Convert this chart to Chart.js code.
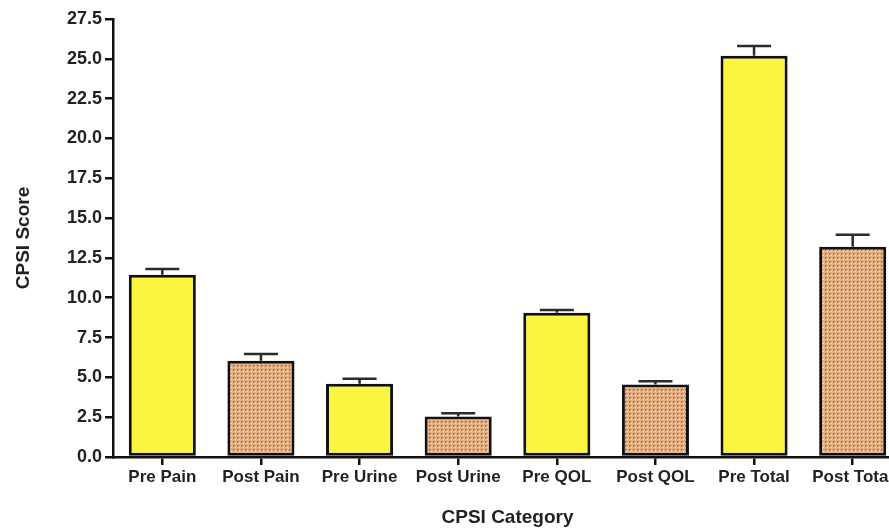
<!DOCTYPE html>
<html>
<head>
<meta charset="utf-8">
<script src="https://cdn.jsdelivr.net/npm/chart.js@4"></script>
<style>
  html, body { margin: 0; padding: 0; background: #fff; overflow: hidden; }
  #wrap { width: 905px; height: 530px; }
</style>
</head>
<body>
<div id="wrap"><canvas id="c" width="905" height="530"></canvas></div>
<script>
// CPSI scores before and after treatment (mean with SEM)
const categories = ['Pre Pain', 'Post Pain', 'Pre Urine', 'Post Urine', 'Pre QOL', 'Post QOL', 'Pre Total', 'Post Total'];
const meanScores = [11.45, 6.05, 4.6, 2.55, 9.05, 4.55, 25.2, 13.2];
const semErrors = [0.35, 0.42, 0.32, 0.2, 0.18, 0.2, 0.6, 0.75];
const yTicks = [0, 2.5, 5, 7.5, 10, 12.5, 15, 17.5, 20, 22.5, 25, 27.5];

// dotted fill used for the post-treatment bars
function dottedPattern() {
  const t = document.createElement('canvas');
  t.width = 4; t.height = 4;
  const g = t.getContext('2d');
  g.fillStyle = '#e5b082';
  g.fillRect(0, 0, 4, 4);
  g.fillStyle = '#c98552';
  g.fillRect(2, 1, 1, 1);
  g.fillRect(1, 2, 1, 1);
  g.fillStyle = '#a05a28';
  g.fillRect(1, 1, 1, 1);
  g.fillStyle = '#f5dbc0';
  g.fillRect(3, 3, 1, 1);
  return g.createPattern(t, 'repeat');
}
const dots = dottedPattern();
const yellow = '#fbf540';
const fills = categories.map((c, i) => (i % 2 === 0 ? yellow : dots));

const errorBars = {
  id: 'errorBars',
  afterDatasetsDraw(chart) {
    const ctx = chart.ctx;
    const y = chart.scales.y;
    const meta = chart.getDatasetMeta(0);
    ctx.save();
    ctx.strokeStyle = '#2a2a2a';
    ctx.lineWidth = 2.5;
    meta.data.forEach((bar, i) => {
      const x = bar.x;
      const y0 = y.getPixelForValue(meanScores[i]);
      const y1 = y.getPixelForValue(meanScores[i] + semErrors[i]);
      ctx.beginPath();
      ctx.moveTo(x, y0);
      ctx.lineTo(x, y1);
      ctx.moveTo(x - 17, y1);
      ctx.lineTo(x + 17, y1);
      ctx.stroke();
    });
    ctx.restore();
  }
};

const font = 'Liberation Sans, Arial, Helvetica, sans-serif';

new Chart(document.getElementById('c'), {
  type: 'bar',
  data: {
    labels: categories,
    datasets: [{
      data: meanScores,
      backgroundColor: fills,
      borderColor: '#111',
      borderWidth: 3,
      borderSkipped: false,
      barPercentage: 0.85,
      categoryPercentage: 0.8
    }]
  },
  options: {
    responsive: false,
    animation: false,
    layout: { padding: { top: 19, right: 3, left: 0, bottom: 0 } },
    plugins: { legend: { display: false }, tooltip: { enabled: false } },
    scales: {
      x: {
        offset: true,
        border: { color: '#111', width: 2.5 },
        grid: { offset: false, drawOnChartArea: false, drawTicks: true, tickLength: 8, color: '#111', lineWidth: 2.5 },
        ticks: { color: '#222', padding: 2, maxRotation: 0, autoSkip: false, font: { family: font, size: 17, weight: 'bold' } },
        title: { display: true, text: 'CPSI Category', color: '#222', padding: { top: 0, bottom: 1 }, font: { family: font, size: 19, weight: 'bold' } },
        afterFit(s) { s.height = 73; }
      },
      y: {
        min: 0,
        max: 27.5,
        afterBuildTicks(s) { s.ticks = yTicks.map(v => ({ value: v })); },
        border: { color: '#111', width: 2.5 },
        grid: { drawOnChartArea: false, drawTicks: true, tickLength: 8, color: '#111', lineWidth: 2.5 },
        ticks: { color: '#222', padding: 3, font: { family: font, size: 18, weight: 'bold' }, callback: v => Number(v).toFixed(1) },
        title: { display: true, text: 'CPSI Score', color: '#222', padding: { top: 12, bottom: 0 }, font: { family: font, size: 19, weight: 'bold' } },
        afterFit(s) { s.width = 113; }
      }
    }
  },
  plugins: [errorBars]
});
</script>
</body>
</html>
